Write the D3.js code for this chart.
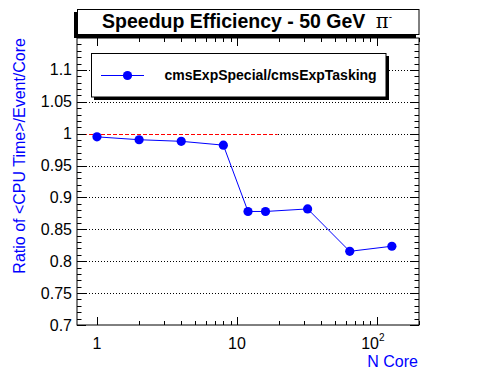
<!DOCTYPE html>
<html>
<head>
<meta charset="utf-8">
<script src="https://cdn.jsdelivr.net/npm/d3@7"></script>
<style>
    body { margin: 0; background: #fff; }
    text { font-family: "Liberation Sans", Arial, sans-serif; }
</style>
</head>
<body>
<svg width="496" height="372"></svg>
<script>
// data
var nCores = [1, 2, 4, 8, 12, 16, 32, 64, 128];
var ratio = [0.995, 0.9905, 0.988, 0.982, 0.878, 0.878, 0.882, 0.8155, 0.8235];
var seriesName = "cmsExpSpecial/cmsExpTasking";
var yMajor = [0.7, 0.75, 0.8, 0.85, 0.9, 0.95, 1, 1.05, 1.1];
var yLabels = ["0.7", "0.75", "0.8", "0.85", "0.9", "0.95", "1", "1.05", "1.1"];
var xMajor = [1, 10, 100];
var xLabels = ["1", "10", "10"];
var refLevel = 1;
var refRange = [0.72, 19.5];

var svg = d3.select("svg"),
    width = +svg.attr("width"),
    height = +svg.attr("height");

var padL = 77, padR = 419, padT = 38, padB = 325;

var x = d3.scaleLog().domain([0.72, 200]).range([padL, padR]);
var y = d3.scaleLinear().domain([0.7, 1.15]).range([padB, padT]);

// minor ticks
var xMinor = [];
[1, 10, 100].forEach(function (dec) {
    for (var k = 2; k <= 9; k++) {
        if (dec * k < 200) xMinor.push(dec * k);
    }
});
xMinor.push(200);
var yMinor = d3.range(70, 115).map(function (v) { return v / 100; })
    .filter(function (v) { return Math.round(v * 100) % 5 !== 0; });

// title box with shadow
svg.append("rect").attr("x", 74).attr("y", 12).attr("width", 342).attr("height", 26).attr("fill", "#000");
svg.append("rect").attr("x", 77.5).attr("y", 9.5).attr("width", 341.5).attr("height", 25)
    .attr("fill", "#fff").attr("stroke", "#000");
var title = svg.append("text")
    .attr("x", 247).attr("y", 28)
    .attr("text-anchor", "middle")
    .attr("font-size", 19.5).attr("font-weight", "bold");
title.append("tspan").text("Speedup Efficiency - 50 GeV ");
title.append("tspan").attr("font-family", "'DejaVu Serif', 'Liberation Serif', serif")
    .attr("font-weight", "normal").attr("dx", 5).text("\u03c0");
title.append("tspan").attr("font-size", 10).attr("dy", -8).attr("font-weight", "normal").text("-");

// grid
svg.append("g").selectAll("line")
    .data(yMajor.filter(function (v) { return v > 0.7; }))
    .enter().append("line")
    .attr("x1", padL).attr("x2", padR)
    .attr("y1", function (d) { return Math.round(y(d)) + 0.5; })
    .attr("y2", function (d) { return Math.round(y(d)) + 0.5; })
    .attr("stroke", "#000").attr("stroke-dasharray", "1,2");

// reference line at 1
svg.append("line")
    .attr("x1", x(refRange[0])).attr("x2", x(refRange[1]))
    .attr("y1", Math.round(y(refLevel)) + 0.5).attr("y2", Math.round(y(refLevel)) + 0.5)
    .attr("stroke", "#ff0000").attr("stroke-width", 1.2).attr("stroke-dasharray", "4,2");

// legend with shadow
svg.append("rect").attr("x", 94).attr("y", 56).attr("width", 295).attr("height", 44).attr("fill", "#000");
svg.append("rect").attr("x", 91.5).attr("y", 53.5).attr("width", 294.5).attr("height", 43.5)
    .attr("fill", "#fff").attr("stroke", "#000");
svg.append("line").attr("x1", 101).attr("x2", 144).attr("y1", 75.5).attr("y2", 75.5)
    .attr("stroke", "#0000ff");
svg.append("circle").attr("cx", 127.5).attr("cy", 75.5).attr("r", 4.6).attr("fill", "#0000ff");
svg.append("text").attr("x", 164.5).attr("y", 80)
    .attr("font-size", 14).attr("font-weight", "bold").text(seriesName);

// frame
svg.append("rect").attr("x", padL).attr("y", padT)
    .attr("width", padR - padL).attr("height", padB - padT)
    .attr("fill", "none").attr("stroke", "#000");

// ticks
var ticks = svg.append("g").attr("stroke", "#000");
function xt(vals, len) {
    vals.forEach(function (v) {
        var px = Math.round(x(v)) + 0.5;
        ticks.append("line").attr("x1", px).attr("x2", px).attr("y1", padB).attr("y2", padB - len);
        ticks.append("line").attr("x1", px).attr("x2", px).attr("y1", padT).attr("y2", padT + len);
    });
}
function yt(vals, len) {
    vals.forEach(function (v) {
        var py = Math.round(y(v)) + 0.5;
        ticks.append("line").attr("x1", padL).attr("x2", padL + len).attr("y1", py).attr("y2", py);
        ticks.append("line").attr("x1", padR).attr("x2", padR - len).attr("y1", py).attr("y2", py);
    });
}
xt(xMajor, 8);
xt(xMinor, 4);
yt(yMajor, 9);
yt(yMinor, 4.5);

// tick labels
svg.append("g").selectAll("text")
    .data(yMajor)
    .enter().append("text")
    .attr("x", 72)
    .attr("y", function (d) { return y(d) + 5.5; })
    .attr("text-anchor", "end")
    .attr("font-size", 16)
    .text(function (d, i) { return yLabels[i]; });

var xl = svg.append("g").selectAll("text")
    .data(xMajor)
    .enter().append("text")
    .attr("x", function (d) { return x(d); })
    .attr("y", 348.5)
    .attr("text-anchor", "middle")
    .attr("font-size", 16);
xl.append("tspan").text(function (d, i) { return xLabels[i]; });
xl.filter(function (d) { return d === 100; })
    .attr("x", function (d) { return x(d) - 4; })
    .append("tspan").attr("font-size", 10).attr("dy", -8).text("2");

// axis titles
svg.append("text")
    .attr("x", 418).attr("y", 367)
    .attr("text-anchor", "end")
    .attr("font-size", 16).attr("fill", "#0000ff")
    .text("N Core");
svg.append("text")
    .attr("transform", "translate(25," + padT + ") rotate(-90)")
    .attr("text-anchor", "end")
    .attr("font-size", 16).attr("fill", "#0000ff")
    .text("Ratio of <CPU Time>/Event/Core");

// series
var pts = nCores.map(function (c, i) { return [c, ratio[i]]; });
svg.append("path")
    .datum(pts)
    .attr("fill", "none").attr("stroke", "#0000ff")
    .attr("d", d3.line().x(function (d) { return x(d[0]); }).y(function (d) { return y(d[1]); }));
svg.append("g").selectAll("circle")
    .data(pts)
    .enter().append("circle")
    .attr("cx", function (d) { return x(d[0]); })
    .attr("cy", function (d) { return y(d[1]); })
    .attr("r", 4.6)
    .attr("fill", "#0000ff");
</script>
</body>
</html>
